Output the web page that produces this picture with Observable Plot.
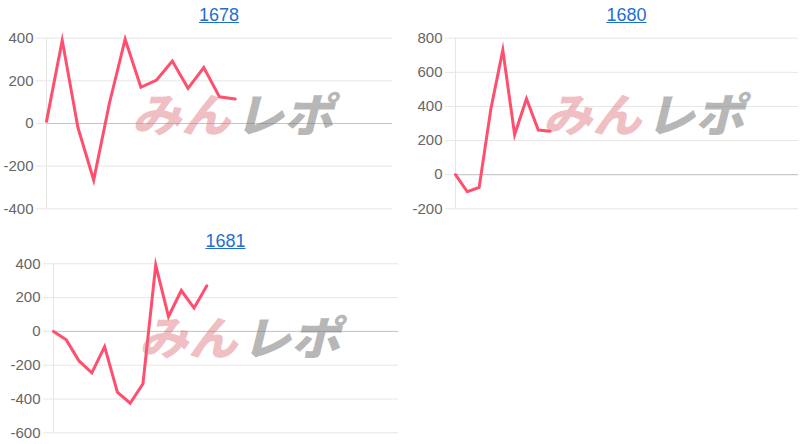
<!DOCTYPE html>
<html>
<head>
<meta charset="utf-8">
<script src="https://cdn.jsdelivr.net/npm/d3@7"></script>
<script src="https://cdn.jsdelivr.net/npm/@observablehq/plot@0.6"></script>
<style>
  html, body { margin: 0; padding: 0; background: #fff; }
  #root { position: relative; width: 800px; height: 444px; overflow: hidden; font-family: "Liberation Sans", Arial, sans-serif; }
  .panel { position: absolute; width: 400px; }
  .title { height: 30px; line-height: 30px; text-align: center; box-sizing: border-box; }
  .title a { color: #1f6fd1; text-decoration: underline; font-size: 18px; }
  .panel svg { display: block; }
  .wm { position: absolute; pointer-events: none; white-space: nowrap;
        font-family: "Noto Sans CJK JP", sans-serif; font-weight: 900; font-size: 46px;
        line-height: 46px; transform-origin: 0 50%; transform: skewX(-14deg) scaleX(1.07); letter-spacing: 0px; }
  .wm .a { color: rgba(222, 110, 120, 0.45); }
  .wm .b { color: rgba(120, 120, 120, 0.55); margin-left: 4px; }
</style>
</head>
<body>
<div id="root"></div>
<script>
// ---- data ----
const titles = ["1678", "1680", "1681"];
const slotCounts = [23, 30, 28];           // number of x categories per panel
const v1678 = [10, 390, -20, -265, 95, 395, 170, 204, 293, 165, 262, 125, 115];
const v1680 = [0, -100, -75, 390, 730, 235, 445, 262, 255];
const v1681 = [0, -50, -175, -245, -90, -360, -425, -310, 392, 88, 242, 138, 270];
const ticks1678 = [-400, -200, 0, 200, 400];
const ticks1680 = [-200, 0, 200, 400, 600, 800];
const ticks1681 = [-600, -400, -200, 0, 200, 400];
const watermarkA = "みん";
const watermarkB = "レポ";

const series = [v1678, v1680, v1681];
const tickSets = [ticks1678, ticks1680, ticks1681];

// ---- layout ----
const layout = [
  {left: 0,   top: 0,   h: 190, mL: 46, mR: 8, mT: 7.7, mB: 11.7, wm: {x: 137, y: 89}},
  {left: 400, top: 0,   h: 190, mL: 55, mR: 2, mT: 7.7, mB: 11.7, wm: {x: 548, y: 89}},
  {left: 0,   top: 226, h: 188, mL: 53, mR: 2, mT: 7.3, mB: 11.7, wm: {x: 144, y: 312}}
];

const root = document.getElementById("root");

series.forEach((vals, k) => {
  const L = layout[k];
  const ticks = tickSets[k];
  const data = vals.map((v, i) => ({i, v}));
  const panel = document.createElement("div");
  panel.className = "panel";
  panel.style.left = L.left + "px";
  panel.style.top = L.top + "px";
  const t = document.createElement("div");
  t.className = "title";
  t.style.paddingLeft = L.mL + "px";
  t.style.paddingRight = L.mR + "px";
  const a = document.createElement("a");
  a.textContent = titles[k];
  a.href = "#";
  t.appendChild(a);
  panel.appendChild(t);

  const chart = Plot.plot({
    width: 400,
    height: L.h,
    marginLeft: L.mL,
    marginRight: L.mR,
    marginTop: L.mT,
    marginBottom: L.mB,
    style: {fontFamily: "'Liberation Sans', Arial, sans-serif", fontSize: "15px", color: "#666", background: "transparent", overflow: "visible"},
    x: {domain: [0, slotCounts[k] - 1], axis: null},
    y: {domain: [d3.min(ticks), d3.max(ticks)], ticks: ticks, label: null},
    marks: [
      Plot.gridY(ticks, {stroke: "#e6e6e6", strokeOpacity: 1}),
      Plot.axisY(ticks, {label: null, tickSize: 10, tickPadding: 3, stroke: "#e6e6e6", fill: "#666", fontSize: 15, tickFormat: d => String(d)}),
      Plot.ruleY([0], {stroke: "#c4c4c4", strokeWidth: 1}),
      Plot.ruleX([0], {stroke: "#e6e6e6"}),
      Plot.line(data, {x: "i", y: "v", stroke: "#ff4f6e", strokeWidth: 3, strokeLinejoin: "miter", strokeMiterlimit: 10})
    ]
  });
  panel.appendChild(chart);
  root.appendChild(panel);

  const wm = document.createElement("div");
  wm.className = "wm";
  wm.style.left = L.wm.x + "px";
  wm.style.top = L.wm.y + "px";
  wm.innerHTML = `<span class="a">${watermarkA}</span><span class="b">${watermarkB}</span>`;
  root.appendChild(wm);
});
</script>
</body>
</html>
